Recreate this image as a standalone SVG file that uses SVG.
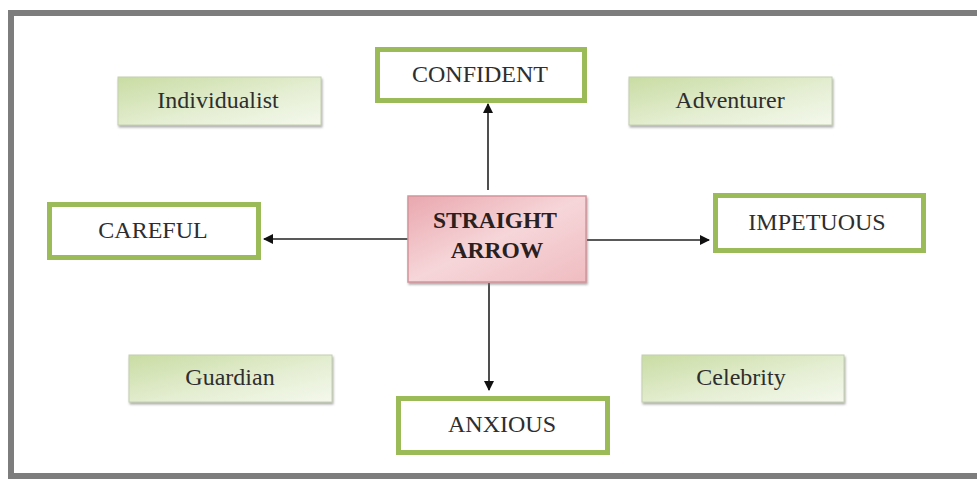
<svg xmlns="http://www.w3.org/2000/svg" width="977" height="481" viewBox="0 0 977 481">
<defs>
<linearGradient id="gG" x1="0" y1="0" x2="1" y2="1">
<stop offset="0" stop-color="#c9dca3"/>
<stop offset="0.6" stop-color="#e6efd5"/>
<stop offset="1" stop-color="#f4f8ec"/>
</linearGradient>
<linearGradient id="pG" x1="0" y1="0" x2="1" y2="1">
<stop offset="0" stop-color="#e9a7ae"/>
<stop offset="0.5" stop-color="#f6d6d9"/>
<stop offset="1" stop-color="#efbcc1"/>
</linearGradient>
<filter id="sh" x="-10%" y="-10%" width="120%" height="130%">
<feDropShadow dx="1" dy="2" stdDeviation="1.2" flood-color="#777" flood-opacity="0.6"/>
</filter>
<marker id="ah" viewBox="0 0 10 10" refX="9" refY="5" markerWidth="10" markerHeight="10" markerUnits="userSpaceOnUse" orient="auto">
<path d="M0,0 L10,5 L0,10 z" fill="#111"/>
</marker>
</defs>
<style>
.frame{fill:#fff;stroke:#7d7d7d;stroke-width:6}
.soft{fill:url(#gG);stroke:#c4cfb0;stroke-width:1;filter:url(#sh)}
.trait{fill:#fff;stroke:#9bbb59;stroke-width:5}
.core{fill:url(#pG);stroke:#d4949b;stroke-width:1.5;filter:url(#sh)}
.t{font-family:"Liberation Serif","Times New Roman",serif;font-size:24px;fill:#2e2e2e;text-anchor:middle}
.tb{font-family:"Liberation Serif","Times New Roman",serif;font-size:23.5px;font-weight:bold;fill:#2a2020;text-anchor:middle}
.c{stroke:#222;stroke-width:1.6;fill:none;marker-end:url(#ah)}
</style>
<rect class="frame" x="11" y="13" width="980" height="463"/>
<g id="connectors">
<line class="c" x1="488" y1="190" x2="488" y2="104"/>
<line class="c" x1="408" y1="239" x2="264" y2="239"/>
<line class="c" x1="587" y1="240" x2="709" y2="240"/>
<line class="c" x1="489" y1="283" x2="489" y2="390"/>
</g>
<g id="individualist"><rect class="soft" x="118" y="77" width="203" height="48"/><text class="t" x="218" y="108">Individualist</text></g>
<g id="adventurer"><rect class="soft" x="629" y="77" width="203" height="48"/><text class="t" x="730" y="108">Adventurer</text></g>
<g id="guardian"><rect class="soft" x="129" y="355" width="203" height="47"/><text class="t" x="230" y="385">Guardian</text></g>
<g id="celebrity"><rect class="soft" x="642" y="355" width="202" height="47"/><text class="t" x="741" y="385">Celebrity</text></g>
<g id="confident"><rect class="trait" x="377.5" y="49.5" width="207" height="51"/><text class="t" x="480" y="82">CONFIDENT</text></g>
<g id="careful"><rect class="trait" x="49.5" y="204.5" width="209" height="53"/><text class="t" x="153" y="238">CAREFUL</text></g>
<g id="impetuous"><rect class="trait" x="715.5" y="195.5" width="208" height="55"/><text class="t" x="817" y="230">IMPETUOUS</text></g>
<g id="anxious"><rect class="trait" x="398.5" y="398.5" width="209" height="54"/><text class="t" x="502" y="432">ANXIOUS</text></g>
<g id="straight-arrow"><rect class="core" x="408" y="196" width="178" height="86"/><text class="tb" x="495" y="228">STRAIGHT</text><text class="tb" x="497" y="258">ARROW</text></g>
</svg>
